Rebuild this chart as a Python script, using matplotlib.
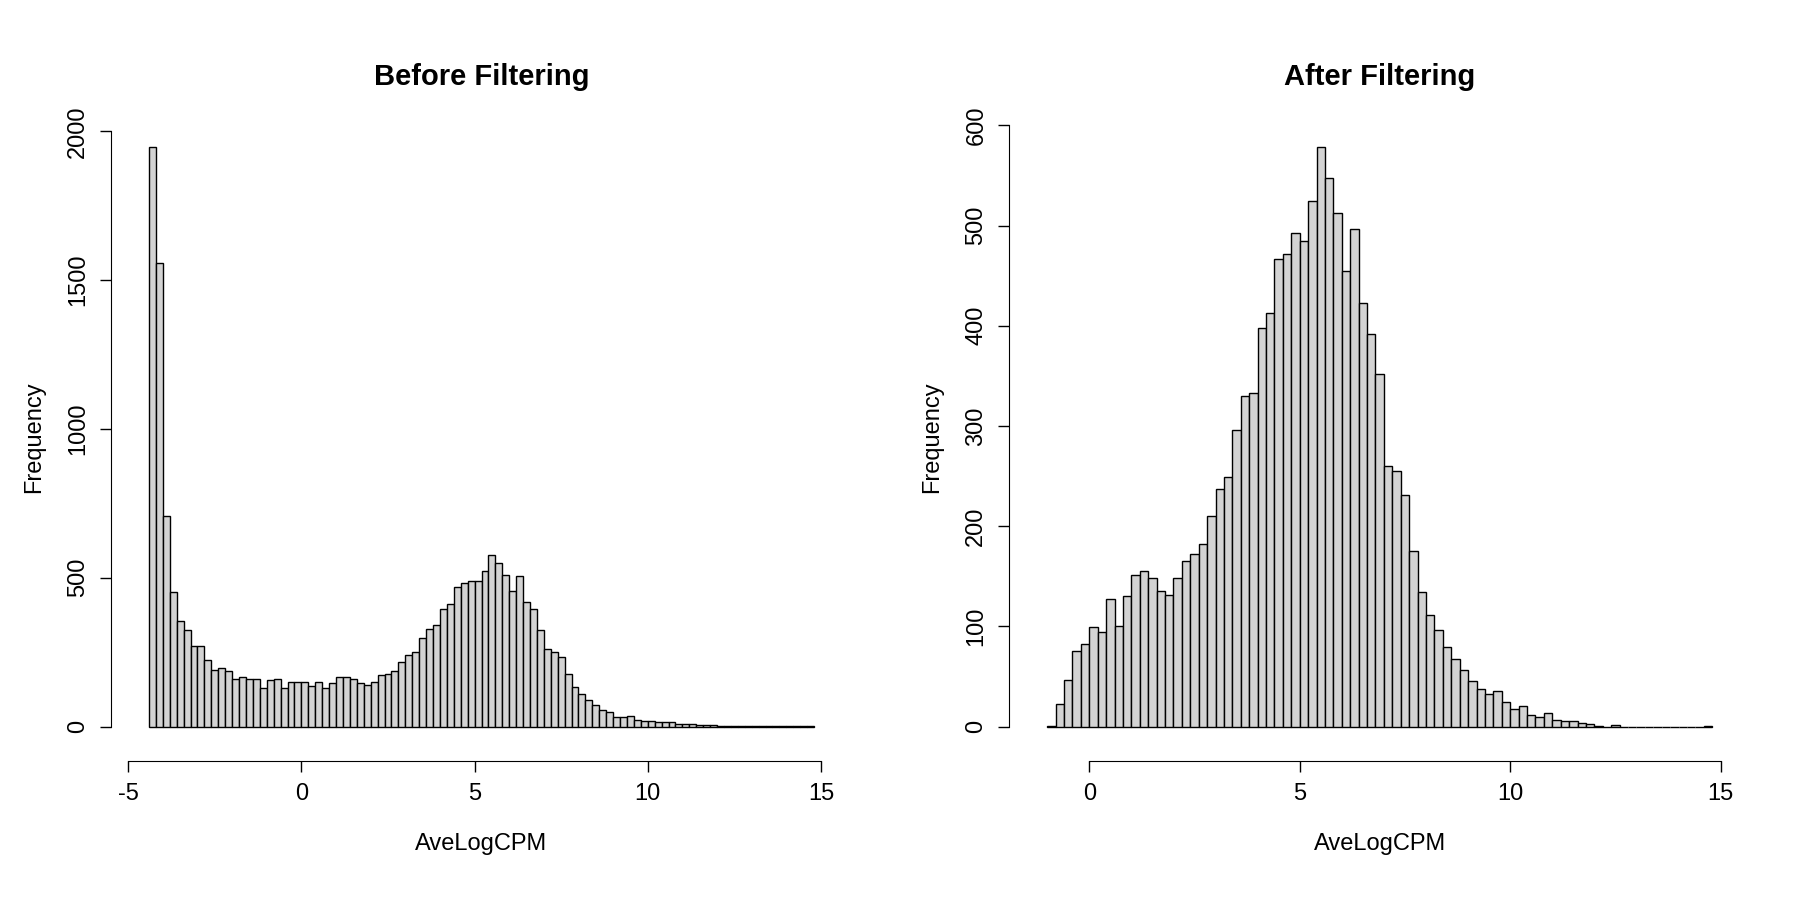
import matplotlib
matplotlib.use("Agg")
import matplotlib.pyplot as plt
import numpy as np

plt.rcParams['font.family'] = ['Liberation Sans', 'DejaVu Sans']

bin_width = 0.2
before_start = -4.4
before_counts = [1946, 1558, 706, 451, 355, 326, 270, 270, 225, 190,
                 195, 185, 160, 165, 160, 160, 130, 155, 160, 130,
                 150, 150, 150, 135, 150, 130, 145, 165, 165, 160,
                 145, 140, 150, 172,
                 175, 188, 216, 242, 251, 299, 329, 340, 395, 412,
                 468, 482, 489, 488, 523, 578, 551, 510, 454, 505,
                 418, 394, 323, 259, 251, 232, 178, 133, 109, 90,
                 72, 55, 48, 33, 33, 36, 23, 20, 20, 14,
                 14, 15, 10, 8, 7, 6, 5, 4, 2,
                 1, 1, 2, 1, 1, 1, 1, 1, 1, 1, 1, 1, 2]
after_start = -1.0
after_counts = [1, 22, 46, 75, 82, 99, 94, 127, 100, 130,
                151, 155, 148, 135, 131, 148, 165, 172, 182, 210,
                237, 249, 296, 330, 333, 398, 413, 467, 472, 493,
                485, 524, 578, 547, 512, 455, 497, 423, 392, 352,
                260, 255, 231, 175, 134, 111, 96, 79, 67, 56,
                45, 37, 32, 35, 24, 17, 20, 12, 10, 14,
                7, 6, 6, 4, 3, 1, 0, 2, 0, 0,
                0, 0, 0, 0, 0, 0, 0, 0, 1]

titles = ["Before Filtering", "After Filtering"]
xticks_list = [[-5, 0, 5, 10, 15], [0, 5, 10, 15]]
yticks_list = [[0, 500, 1000, 1500, 2000], [0, 100, 200, 300, 400, 500, 600]]

fig = plt.figure(figsize=(18, 9), dpi=100)
rects = [[0.068, 0.167, 0.399, 0.695], [0.567, 0.167, 0.399, 0.695]]
for i, (start, counts) in enumerate([(before_start, before_counts), (after_start, after_counts)]):
    ax = fig.add_axes(rects[i])
    counts = np.array(counts, dtype=float)
    lefts = start + bin_width * np.arange(len(counts))
    ax.bar(lefts, counts, width=bin_width, align='edge', color='#d3d3d3',
           edgecolor='black', linewidth=1.0)
    x0, x1 = lefts[0], lefts[-1] + bin_width
    ext = 0.04 * (x1 - x0)
    ax.set_xlim(x0 - ext, x1 + ext)
    ymax = counts.max()
    ax.set_ylim(-0.04 * ymax, ymax * 1.04)
    xt = xticks_list[i]
    for s in ['top', 'right']:
        ax.spines[s].set_visible(False)
    ax.spines['bottom'].set_bounds(xt[0], xt[-1])
    ax.spines['left'].set_bounds(yticks_list[i][0], yticks_list[i][-1])
    ax.spines['bottom'].set_position(('outward', 8))
    ax.spines['left'].set_position(('outward', 8))
    ax.set_xticks(xt)
    ax.set_xticklabels([str(t) for t in xt])
    ax.set_yticks(yticks_list[i])
    ax.set_yticklabels([str(t) for t in yticks_list[i]], rotation=90, va='center')
    ax.tick_params(labelsize=17, length=8, width=1, pad=8)
    ax.set_xlabel("AveLogCPM", fontsize=17, labelpad=20)
    ax.set_ylabel("Frequency", fontsize=17, labelpad=16)
    ax.set_title(titles[i], fontsize=21, fontweight='bold', pad=28)

fig.savefig("out.png", dpi=100)
